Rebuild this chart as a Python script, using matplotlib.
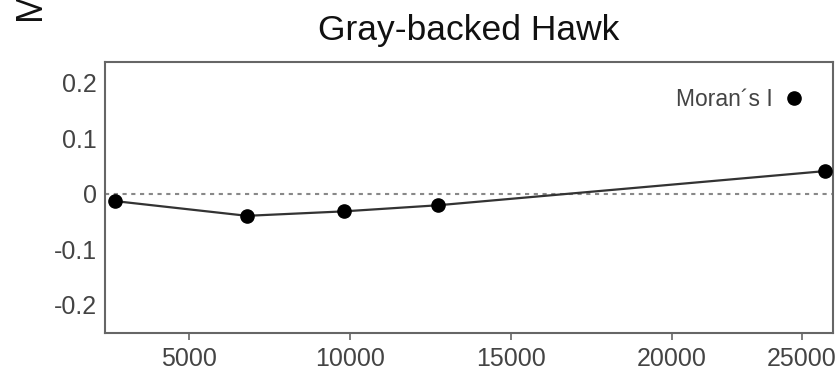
import matplotlib
matplotlib.use("Agg")
import matplotlib.pyplot as plt
from matplotlib import font_manager
from matplotlib.lines import Line2D

# ---- data ----
distance = [2700, 6800, 9800, 12730, 24750]
morans_i = [-0.0135, -0.040, -0.032, -0.021, 0.0405]
x_tick_pos = [5000, 10000, 15000, 20000, 24040]
x_tick_labels = ["5000", "10000", "15000", "20000", "25000"]
y_ticks = [-0.2, -0.1, 0.0, 0.1, 0.2]
y_tick_labels = ["-0.2", "-0.1", "0", "0.1", "0.2"]
title = "Gray-backed Hawk"
legend_label = "Moran\u00b4s I"

def pick(fams):
    for f in fams:
        try:
            font_manager.findfont(f, fallback_to_default=False)
            return f
        except Exception:
            pass
    return "DejaVu Sans"

regular = pick(["Liberation Sans", "Arial"])
tick_font = regular
tick_size = 18

fig = plt.figure(figsize=(8.38, 3.75), dpi=100)
ax = fig.add_axes([0.1253, 0.112, 0.994 - 0.1253, 0.8347 - 0.112])

ax.axhline(0, color="#888888", lw=1.5, ls=(0, (2, 2.2)), zorder=1)
ax.plot(distance, morans_i, color="#333333", lw=1.6, marker="o",
        ms=9.5, mfc="black", mec="black", zorder=3, clip_on=False)

ax.set_xlim(2390, 25000)
ax.set_ylim(-0.251, 0.237)
ax.set_xticks(x_tick_pos)
ax.set_xticklabels(x_tick_labels, fontfamily=tick_font, fontsize=tick_size, color="#444444")
ax.set_yticks(y_ticks)
ax.set_yticklabels(y_tick_labels, fontfamily=tick_font, fontsize=tick_size, color="#444444")
ax.tick_params(axis="x", length=5, width=1.2, color="#666666", pad=5)
ax.tick_params(axis="y", length=0, pad=6)
for s in ax.spines.values():
    s.set_color("#666666")
    s.set_linewidth(1.5)

ax.set_title(title, fontfamily=regular, fontsize=25.5, color="#111111", pad=16)

h = Line2D([], [], marker="o", ls="none", color="black", ms=9.5)
leg = ax.legend([h], [legend_label], loc="center right", bbox_to_anchor=(0.987, 0.863),
                frameon=False, markerfirst=False, handlelength=0.8, handletextpad=0.5,
                prop={"family": tick_font, "size": 16.5})
for t in leg.get_texts():
    t.set_color("#444444")

fig.text(0.036, 0.987, "M", rotation=90, fontsize=26, fontfamily=regular,
         ha="center", va="center", color="#111111")

fig.savefig("out.png", dpi=100, facecolor="white")
